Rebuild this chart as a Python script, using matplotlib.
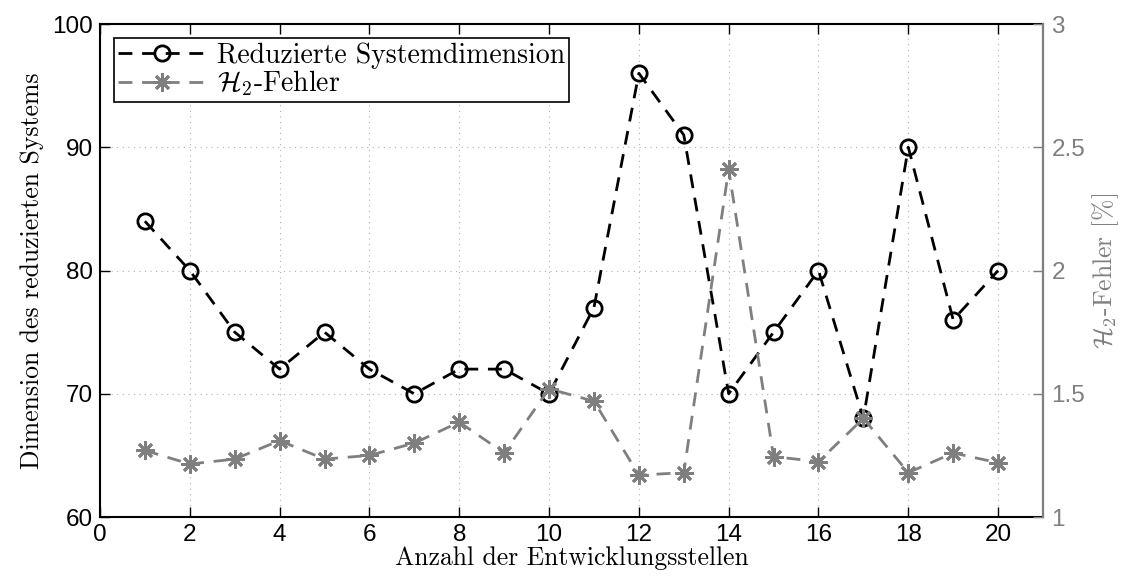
import matplotlib
matplotlib.use("Agg")
import matplotlib.pyplot as plt

# === data ===
stellen = list(range(1, 21))
dimension = [84, 80, 75, 72, 75, 72, 70, 72, 72, 70, 77, 96, 91, 70, 75, 80, 68, 90, 76, 80]
h2_fehler = [1.27, 1.215, 1.235, 1.31, 1.235, 1.25, 1.30, 1.385, 1.26, 1.52,
             1.47, 1.17, 1.18, 2.41, 1.245, 1.225, 1.40, 1.18, 1.26, 1.22]

plt.rcParams['mathtext.fontset'] = 'cm'
tick_font = 'Liberation Sans'
label_font = 'cmr10'
grey = '#7f7f7f'

fig = plt.figure(figsize=(11.26, 5.86), dpi=100)
ax = fig.add_axes([0.0888, 0.1177, 0.8375, 0.8413])
ax2 = ax.twinx()

# black: reduced dimension
l1, = ax.plot(stellen, dimension, color='black', lw=2, dashes=(5, 3.5),
              marker='o', markersize=11, markerfacecolor='none', markeredgewidth=2,
              label='Reduzierte Systemdimension')
# grey: H2 error
l2, = ax2.plot(stellen, h2_fehler, color=grey, lw=2, dashes=(5, 3.5),
               marker=(8, 2, 0), markersize=13, markeredgewidth=2,
               label=r'$\mathcal{H}_2$-Fehler')

ax.set_xlim(0, 21)
ax.set_ylim(60, 100)
ax2.set_ylim(1, 3)
ax.set_xticks(range(0, 21, 2))
ax.set_yticks(range(60, 101, 10))
ax2.set_yticks([1, 1.5, 2, 2.5, 3])
ax2.set_yticklabels(['1', '1.5', '2', '2.5', '3'])

ax.grid(True, linestyle=(0, (1, 4)), color='#b0b0b0', lw=0.8)
ax.tick_params(direction='in', length=7, width=1, top=True, right=False,
               labelsize=17.5, colors='black', pad=5)
ax2.tick_params(direction='in', length=7, width=1, labelsize=17.5,
                colors=grey, pad=6)
for lab in ax.get_xticklabels() + ax.get_yticklabels() + ax2.get_yticklabels():
    lab.set_fontfamily(tick_font)

for s in ax.spines.values():
    s.set_linewidth(1.5)
for s in ax2.spines.values():
    s.set_linewidth(1.5)
ax2.spines['right'].set_color(grey)
ax2.spines['left'].set_visible(False)
ax2.spines['top'].set_visible(False)
ax2.spines['bottom'].set_visible(False)

ax.set_xlabel('Anzahl der Entwicklungsstellen', fontfamily=label_font, fontsize=18.5, labelpad=0)
ax.set_ylabel('Dimension des reduzierten Systems', fontfamily=label_font, fontsize=18.5, labelpad=6)
ax2.set_ylabel(r'$\mathcal{H}_2$-Fehler [%]', fontfamily=label_font, fontsize=18.5,
               color=grey, labelpad=4)

leg = ax2.legend(handles=[l1, l2], loc='upper left',
                 prop={'family': label_font, 'size': 20},
                 fancybox=False, framealpha=1, edgecolor='black',
                 handlelength=3.2, borderaxespad=0.5, labelspacing=0.0,
                 borderpad=0.15, handletextpad=0.35)
leg.get_frame().set_linewidth(1.2)

fig.savefig('out.png', dpi=100)
